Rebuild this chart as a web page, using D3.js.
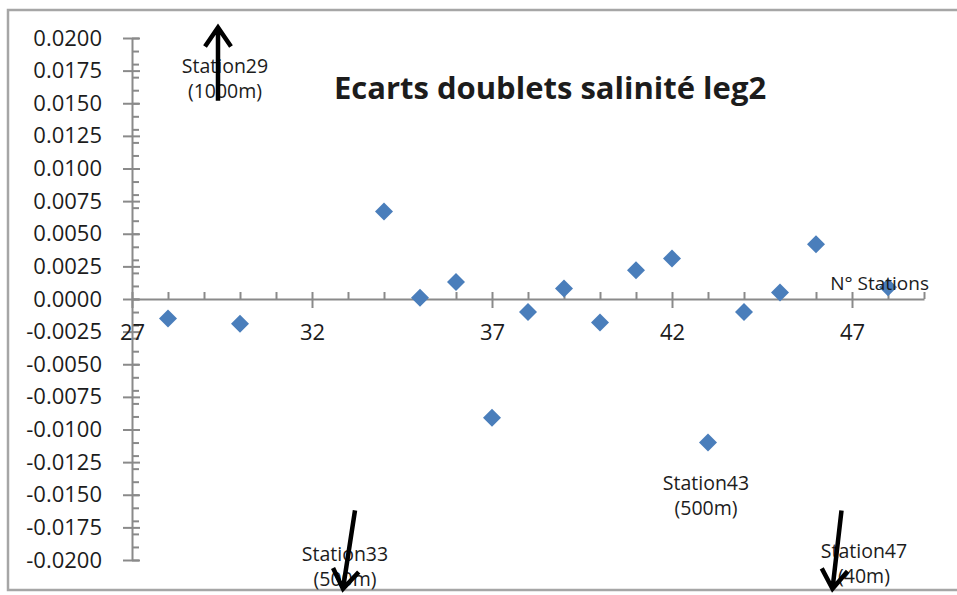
<!DOCTYPE html>
<html>
<head>
<meta charset="utf-8">
<script src="https://cdn.jsdelivr.net/npm/d3@7"></script>
<style>
  body { margin: 0; background: #fff; }
  text { font-family: "Open Sans", sans-serif; fill: #1c1c1c; }
</style>
</head>
<body>
<svg width="957" height="595"></svg>
<script>
// stations measured (x) and salinity difference between doublets (y)
var stations = [28, 30, 34, 35, 36, 37, 38, 39, 40, 41, 42, 43, 44, 45, 46, 48]
var ecarts = [-0.0015, -0.0019, 0.0067, 0.0001, 0.0013, -0.0091, -0.0010, 0.0008,
              -0.0018, 0.0022, 0.0031, -0.0110, -0.0010, 0.0005, 0.0042, 0.0009]

var yTicks = [-0.02, -0.0175, -0.015, -0.0125, -0.01, -0.0075, -0.005, -0.0025, 0,
              0.0025, 0.005, 0.0075, 0.01, 0.0125, 0.015, 0.0175, 0.02]
var xTicks = [27, 32, 37, 42, 47]

// off-scale stations + the one labelled point
var annStations = [29, 33, 43, 47]
var annNames = ["Station29", "Station33", "Station43", "Station47"]
var annDepths = ["(1000m)", "(500m)", "(500m)", "(40m)"]
var annDir = ["up", "down", "none", "down"]

var title = "Ecarts doublets salinité leg2"
var xTitle = "N° Stations"

var svg = d3.select("svg")
var axisColor = "#8a8a8a"

// chart area border
svg.append("rect")
    .attr("x", 8).attr("y", 10)
    .attr("width", 960).attr("height", 580)
    .attr("fill", "none")
    .attr("stroke", "#a6a6a6")
    .attr("stroke-width", 2.5)

var x = d3.scaleLinear().domain([27, 49]).range([132, 924])
var y = d3.scaleLinear().domain([-0.02, 0.02]).range([560, 38])

// y axis : minor ticks every 0.001 on the right, major ticks crossing
var yMinor = d3.range(-20, 21).map(function(i) { return i / 1000 })
svg.append("g")
    .attr("transform", "translate(" + x(27) + ",0)")
    .call(d3.axisLeft(y).tickValues(yMinor).tickSize(-7).tickSizeOuter(0).tickFormat(""))
    .call(function(g) { g.select(".domain").remove() })

var yAxis = svg.append("g")
    .attr("transform", "translate(" + x(27) + ",0)")
    .call(d3.axisLeft(y).tickValues(yTicks).tickSize(9).tickSizeOuter(0).tickPadding(21)
        .tickFormat(function(d) { return d.toFixed(4) }))
yAxis.selectAll(".tick line").attr("x1", 8)
yAxis.selectAll("text").style("font-size", "22px").attr("fill", "#1c1c1c")

// x axis through zero
var xMinor = d3.range(28, 50).filter(function(d) { return xTicks.indexOf(d) < 0 })
svg.append("g")
    .attr("transform", "translate(0," + y(0) + ")")
    .call(d3.axisBottom(x).tickValues(xMinor).tickSize(-7).tickSizeOuter(0).tickFormat(""))
    .call(function(g) { g.select(".domain").remove() })

var xAxis = svg.append("g")
    .attr("transform", "translate(0," + y(0) + ")")
    .call(d3.axisBottom(x).tickValues(xTicks).tickSize(9).tickSizeOuter(0).tickPadding(16))
xAxis.selectAll(".tick line").attr("y1", -7)
xAxis.selectAll("text").style("font-size", "22px").attr("fill", "#1c1c1c")

svg.selectAll(".domain, .tick line")
    .attr("stroke", axisColor)
    .attr("stroke-width", 2)

// points
svg.selectAll(".pt")
    .data(stations)
    .enter().append("path")
    .attr("class", "pt")
    .attr("d", "M0,-9L9,0L0,9L-9,0Z")
    .attr("transform", function(d, i) { return "translate(" + x(d) + "," + y(ecarts[i]) + ")" })
    .attr("fill", "#4a7ebb")

// titles
svg.append("text")
    .attr("x", 550).attr("y", 99)
    .attr("text-anchor", "middle")
    .style("font-size", "31px")
    .style("font-weight", "bold")
    .attr("fill", "#111")
    .text(title)

svg.append("text")
    .attr("x", 929).attr("y", 290)
    .attr("text-anchor", "end")
    .style("font-size", "19px")
    .text(xTitle)

// annotations : two-line labels, arrows for the off-scale stations
annStations.forEach(function(s, i) {
    var cx = x(s)
    var g = svg.append("g")
    var ly
    if (annDir[i] == "up") {
        ly = 73
        cx = cx + 21
    } else if (annDir[i] == "down") {
        ly = s == 47 ? 558 : 561
        cx = s == 47 ? cx + 12 : cx - 3
    } else {
        ly = y(ecarts[stations.indexOf(s)]) + 47
        cx = cx - 2
    }
    var t = g.append("text").attr("x", cx).attr("y", ly)
        .attr("text-anchor", "middle").style("font-size", "19.5px")
    t.append("tspan").attr("x", cx).text(annNames[i])
    t.append("tspan").attr("x", cx).attr("dy", 25).text(annDepths[i])

    var ax, tipY, tailY, tilt
    if (annDir[i] == "up") {
        ax = x(s) + 14; tipY = y(0.0208); tailY = y(0.0152); tilt = 0
    } else if (annDir[i] == "down") {
        ax = s == 47 ? x(s) - 15 : x(s) + 1
        tipY = y(-0.0222); tailY = y(-0.0162); tilt = s == 47 ? 9 : 12
    } else return
    var tipX = ax - tilt / 2, tailX = ax + tilt / 2
    var ang = Math.atan2(tipY - tailY, tipX - tailX)
    var arm = 23, spread = 0.6
    var p1 = [tipX - arm * Math.cos(ang - spread), tipY - arm * Math.sin(ang - spread)]
    var p2 = [tipX - arm * Math.cos(ang + spread), tipY - arm * Math.sin(ang + spread)]
    g.append("path")
        .attr("d", "M" + tailX + "," + tailY + "L" + tipX + "," + tipY +
                   "M" + p1[0] + "," + p1[1] + "L" + tipX + "," + tipY + "L" + p2[0] + "," + p2[1])
        .attr("fill", "none")
        .attr("stroke", "#000")
        .attr("stroke-width", 4.5)
        .attr("stroke-linejoin", "miter")
})
</script>
</body>
</html>
